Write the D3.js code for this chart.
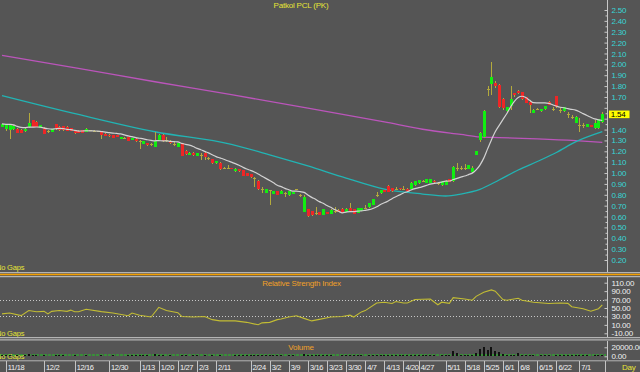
<!DOCTYPE html>
<html><head><meta charset="utf-8">
<script src="https://cdn.jsdelivr.net/npm/d3@7"></script>
<style>
body{margin:0;background:#555555;}
svg{display:block;}
text{font-family:"Liberation Sans",Arial,sans-serif;letter-spacing:-0.2px;}
</style>
</head><body>
<svg id="c" width="640" height="372"></svg>
<script>
// ---------- DATA ----------
const openP=[1.427,1.408,1.396,1.402,1.408,1.40,1.384,1.42,1.488,1.47,
1.414,1.414,1.385,1.378,1.451,1.427,1.433,1.427,1.414,1.396,
1.39,1.396,1.378,1.396,1.39,1.385,1.375,1.36,1.35,1.347,
1.347,1.316,1.32,1.328,1.304,1.316,1.298,1.267,1.279,1.265,
1.243,1.304,1.353,1.30,1.298,1.265,1.243,1.273,1.206,1.169,
1.187,1.157,1.17,1.18,1.135,1.126,1.089,1.095,1.05,1.05,
1.045,1.016,1.034,1.028,0.997,0.991,0.955,0.93,0.85,0.819,
0.84,0.807,0.832,0.807,0.815,0.795,0.807,0.85,0.80,0.642,
0.666,0.648,0.63,0.642,0.611,0.642,0.623,0.65,0.66,0.672,
0.642,0.678,0.666,0.63,0.654,0.68,0.685,0.709,0.80,0.813,
0.844,0.885,0.862,0.85,0.862,0.855,0.856,0.856,0.887,0.905,
0.93,0.911,0.911,0.93,0.905,0.887,0.893,0.942,0.924,1.045,
1.045,1.045,1.04,1.01,1.17,1.30,1.33,1.77,1.82,1.83,
1.81,1.678,1.574,1.617,1.733,1.758,1.746,1.697,1.654,1.555,
1.592,1.568,1.586,1.657,1.59,1.709,1.58,1.568,1.54,1.52,
1.464,1.44,1.44,1.427,1.442,1.411,1.411,1.473];
const highP=[1.455,1.45,1.45,1.44,1.41,1.405,1.41,1.555,1.49,1.475,
1.445,1.42,1.396,1.405,1.455,1.43,1.435,1.43,1.415,1.40,
1.392,1.40,1.41,1.40,1.395,1.39,1.38,1.365,1.355,1.35,
1.35,1.33,1.335,1.33,1.325,1.32,1.30,1.295,1.28,1.273,
1.378,1.36,1.36,1.335,1.30,1.285,1.275,1.275,1.21,1.19,
1.19,1.185,1.18,1.19,1.15,1.13,1.11,1.10,1.06,1.071,
1.05,1.045,1.04,1.03,1.00,0.995,0.967,0.935,0.875,0.855,
0.844,0.835,0.835,0.84,0.826,0.835,0.83,0.856,0.807,0.80,
0.67,0.65,0.691,0.645,0.67,0.645,0.665,0.691,0.665,0.675,
0.675,0.72,0.67,0.68,0.68,0.703,0.725,0.76,0.826,0.846,
0.848,0.89,0.865,0.875,0.865,0.881,0.86,0.915,0.927,0.94,
0.936,0.945,0.945,0.933,0.918,0.927,0.933,0.945,1.062,1.095,
1.065,1.083,1.075,1.062,1.205,1.375,1.58,1.80,2.02,1.85,
1.815,1.69,1.61,1.80,1.74,1.76,1.75,1.70,1.66,1.585,
1.60,1.59,1.62,1.66,1.605,1.712,1.595,1.608,1.562,1.535,
1.522,1.503,1.457,1.455,1.445,1.49,1.50,1.56];
const lowP=[1.42,1.39,1.31,1.40,1.365,1.365,1.38,1.41,1.42,1.42,
1.41,1.355,1.371,1.375,1.40,1.39,1.39,1.385,1.385,1.36,
1.368,1.368,1.375,1.39,1.385,1.375,1.31,1.34,1.335,1.32,
1.33,1.312,1.31,1.295,1.30,1.29,1.218,1.265,1.25,1.249,
1.24,1.30,1.29,1.29,1.27,1.249,1.24,1.155,1.17,1.165,
1.16,1.155,1.12,1.12,1.12,1.085,1.085,1.03,1.034,1.034,
1.035,1.01,1.01,0.97,0.97,0.955,0.869,0.845,0.819,0.815,
0.703,0.805,0.80,0.805,0.783,0.79,0.805,0.84,0.783,0.64,
0.60,0.608,0.614,0.615,0.61,0.62,0.62,0.629,0.64,0.633,
0.64,0.65,0.62,0.628,0.65,0.666,0.683,0.705,0.777,0.81,
0.824,0.825,0.83,0.844,0.848,0.844,0.836,0.853,0.885,0.903,
0.924,0.909,0.909,0.912,0.893,0.885,0.89,0.915,0.92,1.022,
1.028,1.028,1.038,1.005,1.165,1.29,1.32,1.71,1.72,1.78,
1.60,1.58,1.55,1.58,1.70,1.73,1.675,1.645,1.555,1.55,
1.585,1.565,1.583,1.623,1.574,1.60,1.555,1.565,1.503,1.50,
1.46,1.381,1.411,1.424,1.424,1.408,1.408,1.46];
const closeP=[1.452,1.445,1.445,1.433,1.371,1.37,1.408,1.457,1.427,1.427,
1.44,1.359,1.385,1.402,1.402,1.396,1.396,1.39,1.39,1.365,
1.371,1.371,1.408,1.396,1.39,1.385,1.35,1.345,1.34,1.322,
1.335,1.328,1.32,1.298,1.322,1.292,1.298,1.292,1.255,1.265,
1.292,1.353,1.292,1.30,1.273,1.265,1.273,1.157,1.175,1.187,
1.163,1.181,1.17,1.15,1.135,1.089,1.108,1.034,1.05,1.05,
1.04,1.04,1.016,0.973,0.973,0.961,0.955,0.85,0.85,0.85,
0.84,0.832,0.801,0.838,0.815,0.832,0.826,0.85,0.80,0.783,
0.605,0.611,0.63,0.617,0.666,0.623,0.66,0.65,0.642,0.636,
0.672,0.655,0.623,0.675,0.678,0.68,0.721,0.758,0.80,0.844,
0.826,0.83,0.832,0.85,0.85,0.855,0.838,0.911,0.924,0.936,
0.93,0.942,0.942,0.915,0.905,0.924,0.93,0.918,1.059,1.045,
1.045,1.045,1.071,1.05,1.20,1.37,1.57,1.77,1.88,1.80,
1.61,1.595,1.605,1.678,1.718,1.733,1.678,1.648,1.629,1.58,
1.592,1.586,1.617,1.626,1.59,1.605,1.58,1.605,1.54,1.52,
1.519,1.44,1.44,1.451,1.427,1.457,1.497,1.54];
const volumes=[2500,1800,3200,1500,2200,1200,2000,4200,2600,1800,
1500,2400,1000,1600,2800,1900,2100,1500,1200,2300,
1100,1400,2000,900,800,1200,3000,1700,1300,2200,
1500,1600,1000,2400,1800,2100,3400,1900,2200,1200,
4500,3800,2600,1500,2000,1300,1700,4000,2500,1600,
1900,1800,1400,2600,1200,2500,1500,3000,1400,1200,
1500,1800,2000,2800,2200,2600,3200,3600,2400,2100,
3800,2200,2600,2000,1600,2300,1900,1400,1500,4200,
3400,2600,2000,2300,3000,1800,2500,1600,1500,2000,
1900,2400,2200,2800,2000,1500,3000,3400,2600,3000,
2400,3000,2600,1800,2000,1900,2100,3600,3000,2800,
1800,2600,2400,2000,1500,2500,2700,2200,11800,8000,
3000,3200,2600,3500,8000,15500,20000,14000,21300,11800,
9500,4500,3000,4000,2500,7000,3000,2600,2800,2000,
1500,1800,2200,2400,1600,3000,1800,2000,2500,1800,
2800,3000,2000,1800,1500,2400,3000,3500];
// long moving averages (candle index, price)
const ma50Idx=[0,20,40,60,70,80,90,100,110,116,120,125,130,135,140,145,150,157];
const ma50Val=[1.713,1.539,1.380,1.264,1.168,1.065,0.954,0.853,0.807,0.789,0.807,0.850,0.936,1.028,1.106,1.189,1.286,1.380];
const ma200Idx=[0,20,40,60,80,100,110,120,125,130,140,150,157];
const ma200Val=[2.083,1.962,1.840,1.721,1.598,1.470,1.403,1.355,1.332,1.326,1.315,1.299,1.283];
// RSI
const rsiIdx=[0,2,5,7,9,11,12,13,15,17,18,19,20,22,26,29,33,34,36,39,41,43,46,47,50,53,55,57,61,64,67,68,70,72,73,75,77,79,81,83,86,89,91,92,94,95,98,100,102,103,105,106,108,112,114,115,117,118,121,123,124,126,128,129,131,132,135,136,139,143,146,148,149,152,154,156,157];
const rsiVal=[36,38,32,44,41,42,36,42,44,42,45,41,41,47,41.5,38,31.6,38,33,28.6,51.6,44,39,30,28.6,30,22.4,19.4,19.4,16,10.2,14.8,16,22.4,24,28.6,31.6,25.4,19.4,23,28.6,30,33,28.6,40.8,43.8,62,63.8,60.8,65.4,62,62,70,71.4,57.6,63.8,61,74.6,71.4,68.4,77.6,87.5,93,89.8,70,68.4,73,68.4,63.8,60.8,62,61,53,48.4,42.4,48.4,57.6];
// axis ticks
const tickIdx=[1,11,19,28,36,41,46,51,56,65,70,75,80,85,90,95,100,105,109,116,121,126,131,135,140,145,151];
const tickLabels=["11/18","12/2","12/16","12/30","1/13","1/20","1/27","2/3","2/11","2/24","3/2","3/9","3/16","3/23","3/30","4/7","4/13","4/20","4/27","5/11","5/18","5/25","6/1","6/8","6/15","6/22","7/1"];
const priceTicks=[2.50,2.40,2.30,2.20,2.10,2.00,1.90,1.80,1.70,1.60,1.50,1.40,1.30,1.20,1.10,1.00,0.90,0.80,0.70,0.60,0.50,0.40,0.30,0.20];
const rsiTicks=[110,90,70,50,30,10,-10];
const rsiLevels=[70,30];
const volTicks=[20000,0];

// ---------- DRAW ----------
const svg=d3.select('#c');
const BG='#555555', GREEN='#10ee10', RED='#ee2626', WICK='#b4aa3c';
const FS='8px';
const FF='"Liberation Sans",Arial,sans-serif';
svg.append('rect').attr('width',640).attr('height',372).attr('fill',BG);

const N=closeP.length;
const x=d3.scaleLinear().domain([0,N-1]).range([2,602.3]);
const yP=d3.scaleLinear().domain([0.2,2.5]).range([260,10]);
const yR=d3.scaleLinear().domain([-10,110]).range([333.3,282.7]);
const yV=d3.scaleLinear().domain([0,20000]).range([356.3,347.3]);
const px=i=>Math.round(x(i))+0.5;

const defs=svg.append('defs');
defs.append('clipPath').attr('id','cm').append('rect').attr('x',0).attr('y',0).attr('width',606).attr('height',271);
defs.append('clipPath').attr('id','cr').append('rect').attr('x',0).attr('y',277).attr('width',606).attr('height',60);

const main=svg.append('g').attr('clip-path','url(#cm)');
const lineP=d3.line().curve(d3.curveMonotoneX);
main.append('path').attr('d',lineP(ma200Idx.map((d,k)=>[x(d),yP(ma200Val[k])])))
  .attr('fill','none').attr('stroke','#bb55bb').attr('stroke-width',1.3);
main.append('path').attr('d',lineP(ma50Idx.map((d,k)=>[x(d),yP(ma50Val[k])])))
  .attr('fill','none').attr('stroke','#22b4b4').attr('stroke-width',1.3);

const idx=d3.range(N);
const cg=main.append('g').attr('shape-rendering','crispEdges');
cg.selectAll('line.w').data(idx).join('line').attr('class','w')
  .attr('x1',px).attr('x2',px).attr('y1',i=>yP(highP[i])).attr('y2',i=>yP(lowP[i]))
  .attr('stroke',WICK).attr('stroke-width',1);
cg.selectAll('rect.b').data(idx).join('rect').attr('class','b')
  .attr('x',i=>Math.round(x(i))-1).attr('width',3)
  .attr('y',i=>Math.round(yP(Math.max(openP[i],closeP[i]))))
  .attr('height',i=>Math.max(1,Math.round(yP(Math.min(openP[i],closeP[i])))-Math.round(yP(Math.max(openP[i],closeP[i])))))
  .attr('fill',i=>closeP[i]>openP[i]?GREEN:(closeP[i]<openP[i]?RED:WICK));

// 10-period simple moving average of closes
const sma=closeP.map((c,i)=>d3.mean(closeP.slice(Math.max(0,i-9),i+1)));
main.append('path').attr('d',d3.line().curve(d3.curveMonotoneX)(idx.map(i=>[x(i),yP(sma[i])])))
  .attr('fill','none').attr('stroke','#d2d2d2').attr('stroke-width',1.2);

// title and notes
svg.append('text').attr('x',301).attr('y',7.5).attr('text-anchor','middle').attr('fill','#e6e436').style('font-size',FS).text('Patkol PCL (PK)');
[270,335.5,358.8].forEach(yy=>svg.append('text').attr('x',-4).attr('y',yy).attr('fill','#e6e436').style('font-size','7.5px').text('No Gaps'));

// price axis
svg.append('line').attr('x1',607.5).attr('x2',607.5).attr('y1',0).attr('y2',272).attr('stroke','#c8c8c8');
const lastC=closeP[N-1];
const minorP=priceTicks.slice(1).map((t,k)=>(t+priceTicks[k])/2);
const gPm=svg.append('g').attr('transform','translate(607.5,0)').call(d3.axisRight(yP).tickValues(minorP).tickSize(-2).tickFormat(''));
const gP=svg.append('g').attr('transform','translate(607.5,0)').call(d3.axisRight(yP).tickValues(priceTicks).tickSize(-3).tickPadding(4).tickFormat(d=>d.toFixed(2)));
[gP,gPm].forEach(g=>{g.select('.domain').remove();g.selectAll('.tick line').attr('stroke','#c8c8c8');});
gP.selectAll('.tick text').attr('fill','#36d6d6').style('font-size',FS).attr('font-family',FF)
  .style('display',d=>Math.abs(yP(d)-yP(lastC))<7?'none':null);

// last price box
svg.append('rect').attr('x',609).attr('y',yP(lastC)-3.8).attr('width',20.5).attr('height',7.6).attr('fill','#ffff00');
svg.append('text').attr('x',610.8).attr('y',yP(lastC)+2.9).attr('fill','#000').style('font-size',FS).text(lastC.toFixed(2));

// dividers
const hl=(yy,col,w)=>svg.append('line').attr('x1',0).attr('x2',640).attr('y1',yy).attr('y2',yy).attr('stroke',col).attr('stroke-width',w);
hl(272.6,'#b4b4b4',1.3); hl(274.6,'#f5a000',1.5); hl(276.6,'#b4b4b4',1.3);
hl(337.6,'#b4b4b4',1.2); hl(339.8,'#b4b4b4',1.2);
hl(360.8,'#b4b4b4',1);

// RSI panel
svg.append('text').attr('x',301.5).attr('y',285.6).attr('text-anchor','middle').attr('fill','#f0a028').style('font-size',FS).text('Relative Strength Index');
svg.selectAll('line.lv').data(rsiLevels).join('line').attr('class','lv')
  .attr('x1',0).attr('x2',606).attr('y1',d=>Math.round(yR(d))+0.5).attr('y2',d=>Math.round(yR(d))+0.5)
  .attr('stroke','#c8c8c8').attr('stroke-dasharray','1,2');
svg.append('g').attr('clip-path','url(#cr)').append('path')
  .attr('d',d3.line()(rsiIdx.map((d,k)=>[x(d),yR(rsiVal[k])])))
  .attr('fill','none').attr('stroke','#c2bc34').attr('stroke-width',1.1);
svg.append('line').attr('x1',607.5).attr('x2',607.5).attr('y1',277).attr('y2',337).attr('stroke','#c8c8c8');
const gR=svg.append('g').attr('transform','translate(607.5,0)').call(d3.axisRight(yR).tickValues(rsiTicks).tickSize(-3).tickPadding(4).tickFormat(d=>d.toFixed(2)));
gR.select('.domain').remove(); gR.selectAll('.tick line').attr('stroke','#c8c8c8');
gR.selectAll('.tick text').attr('fill','#f0f0f0').style('font-size',FS).attr('font-family',FF);

// Volume panel
svg.append('text').attr('x',301).attr('y',350.2).attr('text-anchor','middle').attr('fill','#f0a028').style('font-size',FS).text('Volume');
svg.append('line').attr('x1',0).attr('x2',606).attr('y1',355).attr('y2',355).attr('stroke','#1ec81e').attr('stroke-width',1).attr('stroke-dasharray','3,1');
svg.append('g').attr('shape-rendering','crispEdges').selectAll('rect').data(idx).join('rect')
  .attr('x',i=>Math.round(x(i))-1).attr('width',2.4)
  .attr('y',i=>yV(volumes[i])).attr('height',i=>yV(0)-yV(volumes[i]))
  .attr('fill','#111');
svg.append('line').attr('x1',607.5).attr('x2',607.5).attr('y1',341).attr('y2',360).attr('stroke','#c8c8c8');
const gV=svg.append('g').attr('transform','translate(607.5,0)').call(d3.axisRight(yV).tickValues(volTicks).tickSize(-3).tickPadding(4).tickFormat(d=>d.toFixed(2)));
gV.select('.domain').remove(); gV.selectAll('.tick line').attr('stroke','#c8c8c8');
gV.selectAll('.tick text').attr('fill','#f0f0f0').style('font-size',FS).attr('font-family',FF);

// date axis
const xg=svg.append('g');
xg.selectAll('line').data(tickIdx).join('line')
  .attr('x1',d=>Math.round(x(d))+0.5).attr('x2',d=>Math.round(x(d))+0.5).attr('y1',361).attr('y2',372)
  .attr('stroke','#c4c4c4');
xg.selectAll('text').data(tickIdx).join('text')
  .attr('x',d=>x(d)+2).attr('y',370).attr('fill','#f2f2f2').style('font-size','7.5px').style('letter-spacing','-0.35px')
  .text((d,k)=>tickLabels[k]);
svg.append('line').attr('x1',605.5).attr('x2',605.5).attr('y1',361).attr('y2',372).attr('stroke','#c4c4c4');
svg.append('text').attr('x',622).attr('y',370).attr('fill','#e6e436').style('font-size',FS).text('Day');
</script>
</body></html>
